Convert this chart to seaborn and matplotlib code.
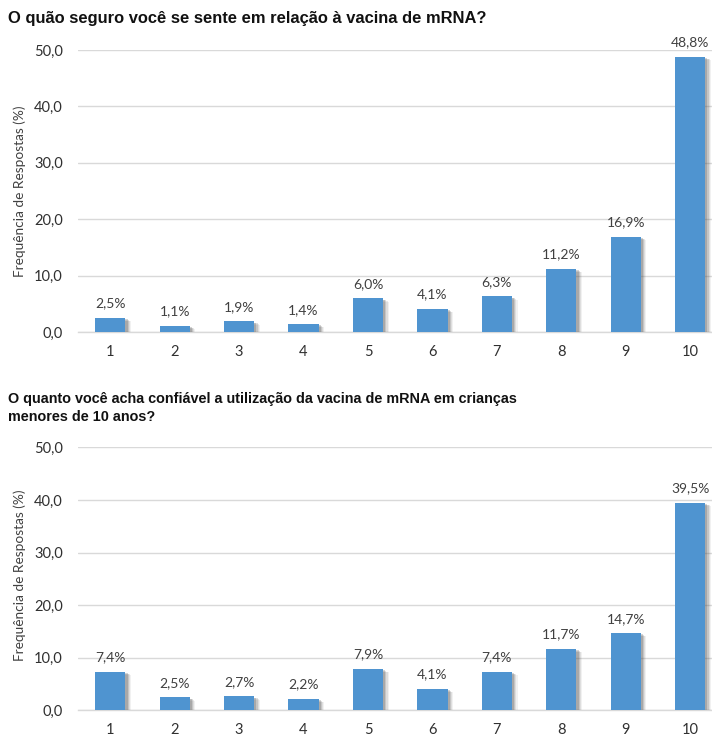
import matplotlib
matplotlib.use("Agg")
import matplotlib.pyplot as plt
import matplotlib.patheffects as pe
import seaborn as sns
import pandas as pd

# Survey answers on a 1-10 scale
categories = ["1", "2", "3", "4", "5", "6", "7", "8", "9", "10"]
seguranca = [2.5, 1.1, 1.9, 1.4, 6.0, 4.1, 6.3, 11.2, 16.9, 48.8]
criancas = [7.4, 2.5, 2.7, 2.2, 7.9, 4.1, 7.4, 11.7, 14.7, 39.5]
yticks = [0, 10, 20, 30, 40, 50]
ytick_labels = ["0,0", "10,0", "20,0", "30,0", "40,0", "50,0"]

titulo1 = "O quão seguro você se sente em relação à vacina de mRNA?"
titulo2 = ("O quanto você acha confiável a utilização da vacina de mRNA em crianças\n"
           "menores de 10 anos?")
ylabel = "Frequência de Respostas (%)"

sns.set_theme(style="white")
plt.rcParams["font.family"] = ["Lato", "DejaVu Sans"]

BAR = "#4f94d0"
GRID = "#d9d9d9"
TXT = "#404040"

fig = plt.figure(figsize=(7.12, 7.38), dpi=100)
ax1 = fig.add_axes([0.1096, 0.5501, 0.8904, 0.3821])
ax2 = fig.add_axes([0.1096, 0.0373, 0.8904, 0.3564])

# soft drop shadow to the lower right of each bar
shadow = [
    pe.SimplePatchShadow(offset=(off, -off * 0.6), shadow_rgbFace="#555555", alpha=a)
    for off, a in [(4.0, 0.08), (3.2, 0.12), (2.4, 0.18), (1.6, 0.25)]
] + [pe.Normal()]


def draw(ax, values):
    df = pd.DataFrame({"nota": categories, "pct": values})
    sns.barplot(data=df, x="nota", y="pct", ax=ax, color=BAR, width=0.47,
                saturation=1, zorder=3, edgecolor=BAR, linewidth=0)
    for bar in ax.patches:
        bar.set_path_effects(shadow)
    labels = [f"{v:.1f}%".replace(".", ",") for v in values]
    ax.bar_label(ax.containers[0], labels=labels, padding=6, fontsize=10,
                 color=TXT, zorder=4)
    ax.set_xlim(-0.5, 9.34)
    ax.set_ylim(0, 50)
    ax.set_yticks(yticks)
    ax.set_yticklabels(ytick_labels)
    ax.yaxis.grid(True, color=GRID, linewidth=1, zorder=0)
    ax.set_axisbelow(True)
    for s in ["top", "right", "left"]:
        ax.spines[s].set_visible(False)
    ax.spines["bottom"].set_color(GRID)
    ax.spines["bottom"].set_linewidth(1)
    ax.tick_params(axis="both", length=0, labelsize=10.5, colors="#303030")
    ax.tick_params(axis="y", pad=11)
    ax.tick_params(axis="x", pad=9)
    ax.set_xlabel("")
    ax.set_ylabel("")


draw(ax1, seguranca)
draw(ax2, criancas)

fig.text(0.011, 1 - 18 / 738, titulo1, fontsize=11.9, fontweight="bold",
         family=["Liberation Sans", "DejaVu Sans"], color="#111111", va="center", ha="left")
fig.text(0.011, 1 - 408 / 738, titulo2, fontsize=10.4, fontweight="bold",
         family=["Liberation Sans Narrow", "Liberation Sans", "DejaVu Sans"],
         color="#111111", va="center", ha="left", linespacing=1.35)

fig.text(20 / 712, 1 - 191 / 738, ylabel, rotation=90, fontsize=9.8, color=TXT,
         va="center", ha="center")
fig.text(20 / 712, 1 - 575 / 738, ylabel, rotation=90, fontsize=9.8, color=TXT,
         va="center", ha="center")

fig.savefig("out.png", dpi=100)
